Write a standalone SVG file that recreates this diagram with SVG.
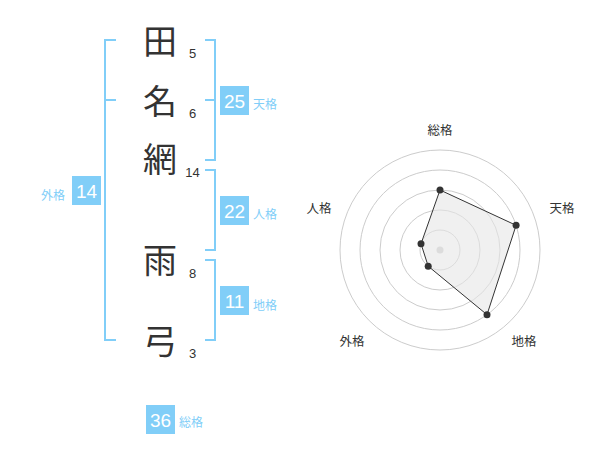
<svg xmlns="http://www.w3.org/2000/svg" width="600" height="470" viewBox="0 0 600 470">
<style>
.kanji{font-family:"Noto Sans CJK JP","Noto Sans CJK SC",sans-serif;font-size:34px;fill:#333;text-anchor:middle}
.num{font-family:"Liberation Sans",Arial,sans-serif;font-size:13px;fill:#333;text-anchor:middle}
.br{fill:none;stroke:#81CEF8;stroke-width:2}
.box{fill:#81CEF8}
.bt{font-family:"Liberation Sans",Arial,sans-serif;font-size:19px;fill:#fff;text-anchor:middle}
.lb{font-family:"Liberation Sans","Noto Sans CJK JP",sans-serif;font-size:12px;fill:#81CEF8}
.ring{fill:none;stroke:#ccc;stroke-width:1}
.rl{font-family:"Liberation Sans","Noto Sans CJK JP",sans-serif;font-size:12.5px;fill:#333;text-anchor:middle}
.pt{fill:#333}
</style>
<rect width="600" height="470" fill="#fff"/>
<g id="connectors">
<path class="br" d="M116,40 H105 V340 H116 M105,100 H116"/>
<path class="br" d="M205,40 H215 V160 H205 M215,100 H205"/>
<path class="br" d="M205,170 H215 V250 H205"/>
<path class="br" d="M205,260 H215 V340 H205"/>
</g>
<g id="char-1"><text class="kanji" x="160" y="54">田</text><text class="num" x="192.5" y="57.5">5</text></g>
<g id="char-2"><text class="kanji" x="160" y="114">名</text><text class="num" x="192.5" y="117.5">6</text></g>
<g id="char-3"><text class="kanji" x="160" y="172">網</text><text class="num" x="192.5" y="176.5">14</text></g>
<g id="char-4"><text class="kanji" x="160" y="273">雨</text><text class="num" x="192.5" y="277.5">8</text></g>
<g id="char-5"><text class="kanji" x="160" y="354">弓</text><text class="num" x="192.5" y="358">3</text></g>
<g id="tenkaku"><rect class="box" x="220" y="86" width="29" height="29"/><text class="bt" x="234.5" y="108.3">25</text><text class="lb" x="253" y="108.5">天格</text></g>
<g id="jinkaku"><rect class="box" x="220" y="196" width="29" height="29"/><text class="bt" x="234.5" y="218.3">22</text><text class="lb" x="253" y="218.5">人格</text></g>
<g id="chikaku"><rect class="box" x="220" y="286" width="29" height="29"/><text class="bt" x="234.5" y="308.3">11</text><text class="lb" x="253" y="309.5">地格</text></g>
<g id="gaikaku"><rect class="box" x="72" y="176" width="29" height="29"/><text class="bt" x="86.5" y="198.3">14</text><text class="lb" x="41" y="199.5">外格</text></g>
<g id="soukaku"><rect class="box" x="146" y="405" width="29" height="29"/><text class="bt" x="160.5" y="427.3">36</text><text class="lb" x="179" y="427">総格</text></g>
<g id="radar">
<circle class="ring" cx="440" cy="250" r="20"/>
<circle class="ring" cx="440" cy="250" r="40"/>
<circle class="ring" cx="440" cy="250" r="60"/>
<circle class="ring" cx="440" cy="250" r="80"/>
<circle class="ring" cx="440" cy="250" r="100"/>
<circle cx="440" cy="250" r="3.5" fill="#ccc"/>
<polygon points="440,190 516.1,225.3 487,314.7 428.2,266.2 421,243.8" fill="#e6e6e6" fill-opacity="0.6" stroke="#333" stroke-width="1"/>
<circle class="pt" cx="440" cy="190" r="3.5"/>
<circle class="pt" cx="516.1" cy="225.3" r="3.5"/>
<circle class="pt" cx="487" cy="314.7" r="3.5"/>
<circle class="pt" cx="428.2" cy="266.2" r="3.5"/>
<circle class="pt" cx="421" cy="243.8" r="3.5"/>
<text class="rl" x="440" y="135">総格</text>
<text class="rl" x="562" y="212.5">天格</text>
<text class="rl" x="524" y="346">地格</text>
<text class="rl" x="352" y="346">外格</text>
<text class="rl" x="319" y="212.5">人格</text>
</g>
</svg>
